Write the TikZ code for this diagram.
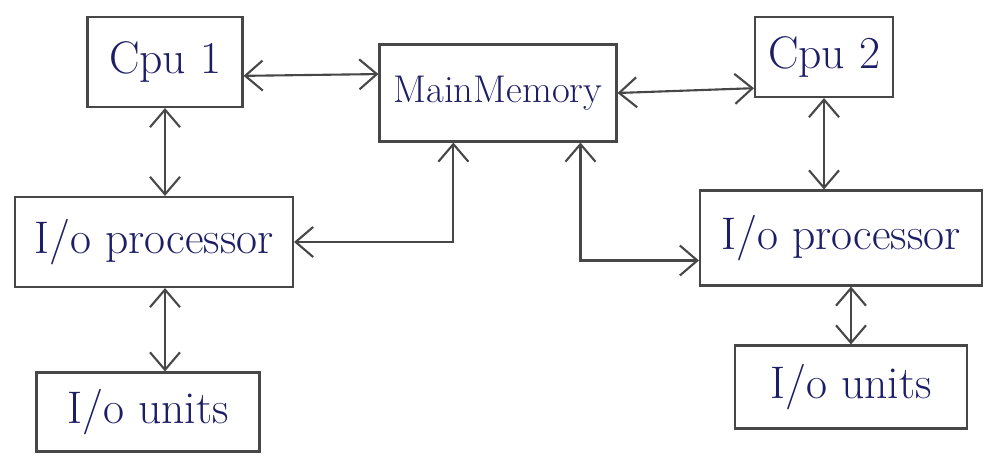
\documentclass[tikz,border=0pt]{standalone}
\usepackage{xcolor}
\usepackage{tikz}
\usetikzlibrary{
	arrows.meta,
	positioning
}
\definecolor{ink}{HTML}{1E1E66}
\definecolor{pencil}{HTML}{474747}
\tikzset{
	unit/.style={
		draw=pencil,
		line width=1.2pt,
		text=ink,
		font=\fontsize{26}{30}\selectfont,
		inner sep=0pt
	},
	link/.style={
		>={Straight Barb[length=3.5mm,width=6mm]},
		<->,
		draw=pencil,
		line width=1.2pt
	},
	every edge/.append style={
		link
	}
}

\begin{document}
\begin{tikzpicture}[x=0.02cm,y=-0.02cm]
	\useasboundingbox (0,0) rectangle (988,456);
	\draw
		node [unit,minimum width=3.1cm, minimum height=1.8cm]  (cpu1) at (165,62)  {Cpu 1}
		node [unit,minimum width=4.74cm,minimum height=1.94cm,
		      font=\fontsize{22}{26}\selectfont]               (mm)   at (498,93)  {MainMemory}
		node [unit,minimum width=2.76cm,minimum height=1.6cm]  (cpu2) at (824,57)  {Cpu 2}
		node [unit,minimum width=5.56cm,minimum height=1.8cm]  (iopl) at (154,242) {I/o processor}
		node [unit,minimum width=5.64cm,minimum height=1.9cm]  (iopr) at (841,238) {I/o processor}
		node [unit,minimum width=4.46cm,minimum height=1.58cm] (ioul) at (148,412) {I/o units}
		node [unit,minimum width=4.64cm,minimum height=1.66cm] (iour) at (851,387) {I/o units}

		(cpu1.-10)                edge (mm.171)
		(mm.east)                 edge (cpu2.204)
		(cpu1.south)              edge (cpu1.south |- iopl.north)
		(iopl.south -| cpu1.south) edge (ioul.north -| cpu1.south)
		(cpu2.south)              edge (cpu2.south |- iopr.north)
		(iour.north |- iopr.south) edge (iour.north)
	;
	% memory to both I/O processors
	\draw [link] (mm.228) |- (iopl.east);
	\draw [link] (mm.-31) |- (iopr.189);
\end{tikzpicture}
\end{document}
